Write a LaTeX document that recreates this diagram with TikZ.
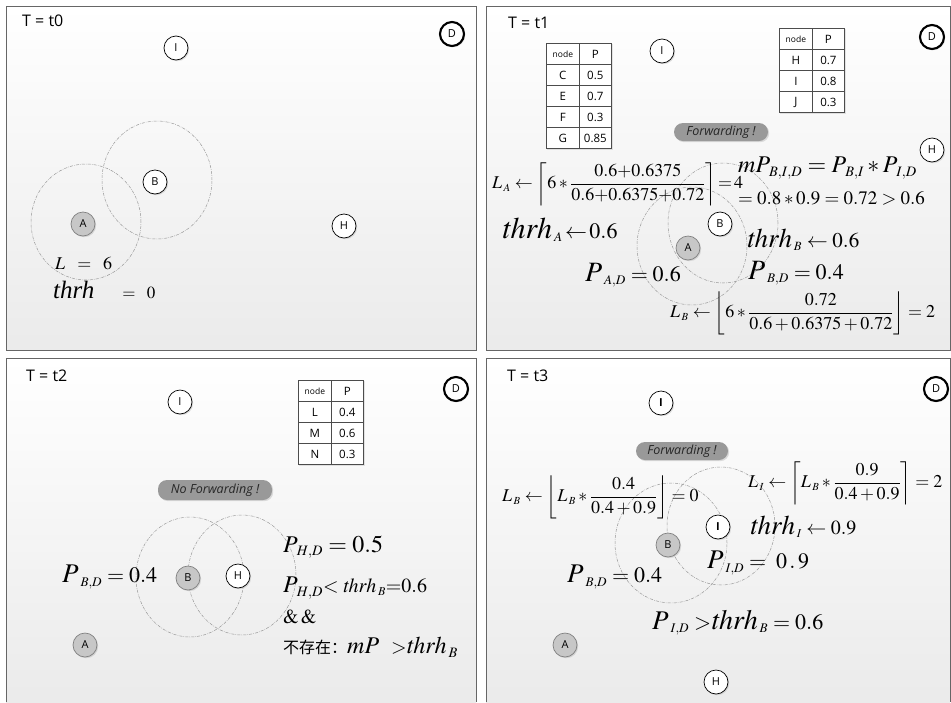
\documentclass[tikz,border=0pt]{standalone}
\usepackage{amsmath}
\usepackage{mathptmx}
\usepackage[no-math]{fontspec}
\setmainfont{Liberation Serif}
\setsansfont{Open Sans}
\newfontfamily\cjk{Noto Sans CJK SC}
\usetikzlibrary{shadows,matrix}
\newcommand{\fs}[1]{\fontsize{#1}{#1}\selectfont}
\newcommand{\ssb}[1]{_{\,\scriptscriptstyle #1}}
\newcommand{\thr}{\mathit{thrh}}
\begin{document}
\begin{tikzpicture}[x=1pt,y=-1pt,
 pfill/.style={top color=white, bottom color=black!8},
 pborder/.style={draw=black!60, line width=0.9pt},
 nd/.style={circle, draw=black, line width=0.7pt, fill=white, minimum size=24pt, inner sep=0pt, font=\sffamily\fs{11},
   drop shadow={shadow xshift=1.2pt, shadow yshift=-1.2pt, opacity=0.25}},
 ndg/.style={nd, fill=black!22, draw=black!50},
 ndd/.style={nd, line width=2.1pt},
 ndb/.style={nd, font=\sffamily\bfseries\fs{11}},
 rng/.style={draw=black!40, line width=0.5pt, dash pattern=on 3pt off 1.2pt on 0.6pt off 1.2pt},
 pill/.style={rounded corners=9pt, fill=black!40, minimum height=18pt, font=\sffamily\itshape\fs{12.5}, text=black!85, inner sep=0pt,
   drop shadow={shadow xshift=1.2pt, shadow yshift=-1.2pt, opacity=0.25}},
 lbl/.style={anchor=west, font=\sffamily\fs{16}, inner sep=0pt},
 fx/.style={anchor=west, inner sep=0pt},
 ptab/.style={matrix of nodes, inner sep=0pt, anchor=north west,
   nodes={draw=black!70, line width=0.8pt, fill=white, minimum height=21pt, minimum width=32.5pt, inner sep=0pt, font=\sffamily\fs{11.5}, anchor=center},
   column sep=-0.8pt, row sep=-0.8pt,
   drop shadow={shadow xshift=1.2pt, shadow yshift=-1.2pt, opacity=0.2}},
 hd/.style={font=\sffamily\fs{8.5}}
]
\useasboundingbox (0,0) rectangle (951,702);
\fill[white] (0,0) rectangle (951,702);
% ---------- panels
\fill[pfill] (6,6) rectangle (476,350);
\draw[pborder] (6,6) rectangle (476,350);
\fill[pfill] (486,6) rectangle (950,350);
\draw[pborder] (486,6) rectangle (950,350);
\fill[pfill] (6,358) rectangle (476,702);
\draw[pborder] (6,702) -- (6,358) -- (476,358) -- (476,702);
\fill[pfill] (486,358) rectangle (950,702);
\draw[pborder] (486,702) -- (486,358) -- (950,358) -- (950,702);

% ---------- panel t0
\node[lbl] (T0) at (22,21) {T = t0};
\draw[rng] (86,222) ellipse [x radius=55pt, y radius=58pt];
\draw[rng] (157,180) ellipse [x radius=55pt, y radius=59pt];
\node[nd] (I0) at (176,48) {I};
\node[ndd] (D0) at (452,34) {D};
\node[nd] (B0) at (155,182) {B};
\node[ndg] (A0) at (83,224) {A};
\node[nd] (H0) at (344,226) {H};
\node[fx] (L0) at (55,263) {\fs{18}$L\;\;=\;\;6$};
\node[fx] (th0) at (53,290) {\fs{25}\itshape thrh\hspace{28pt}\fs{17}\upshape $=\;\;0$};

% ---------- panel t1
\node[lbl] (T1) at (508,23) {T = t1};
\matrix[ptab] (tab1) at (546,43) {
 |[hd]| node & P \\
 C & 0.5 \\
 E & 0.7 \\
 F & 0.3 \\
 G & 0.85 \\
};
\matrix[ptab] (tab2) at (779,28) {
 |[hd]| node & P \\
 H & 0.7 \\
 I & 0.8 \\
 J & 0.3 \\
};
\draw[rng] (723,223) ellipse [x radius=55pt, y radius=60pt];
\draw[rng] (692,246) ellipse [x radius=55pt, y radius=59pt];
\node[nd] (I1) at (662,51) {I};
\node[ndd] (D1) at (932,37) {D};
\node[pill, minimum width=94pt] (F1) at (721,132) {Forwarding !};
\node[nd] (H1) at (932,150) {H};
\node[nd] (B1) at (720,224) {B};
\node[ndg] (A1) at (688,248) {A};
\node[fx] (LA) at (492,184) {\fs{18}$L\ssb{A}\leftarrow\left\lceil 6*\dfrac{0.6{+}0.6375}{0.6{+}0.6375{+}0.72}\right\rceil{=}\,4$};
\node[fx] (mP) at (738,168) {\fs{24}$mP\ssb{B,I,D}=P\ssb{B,I}*P\ssb{I,D}$};
\node[fx] (eq1) at (738,198) {\fs{19}$=0.8*0.9=0.72>0.6$};
\node[fx] (thA) at (502,230) {\fs{30}$\thr$\fs{22}${}\ssb{A}\!\leftarrow\!0.6$};
\node[fx] (thB) at (747,240) {\fs{27}$\thr$\fs{21}${}\ssb{B}\leftarrow0.6$};
\node[fx] (PAD) at (585,275) {\fs{28}$P$\fs{22}${}\ssb{A,D}=0.6$};
\node[fx] (PBD1) at (748,273) {\fs{28}$P$\fs{22}${}\ssb{B,D}=0.4$};
\node[fx] (LB) at (670,313) {\fs{18}$L\ssb{B}\leftarrow\left\lfloor 6*\dfrac{0.72}{0.6+0.6375+0.72}\right\rfloor=2$};

% ---------- panel t2
\node[lbl] (T2) at (26,376) {T = t2};
\matrix[ptab] (tab3) at (298,380) {
 |[hd]| node & P \\
 L & 0.4 \\
 M & 0.6 \\
 N & 0.3 \\
};
\draw[rng] (190,577) ellipse [x radius=54pt, y radius=60pt];
\draw[rng] (242,575) ellipse [x radius=54pt, y radius=60pt];
\node[nd] (I2) at (180,402) {I};
\node[ndd] (D2) at (456,389) {D};
\node[pill, minimum width=114pt, minimum height=20pt] (NF) at (215,490) {No Forwarding !};
\node[ndg] (B2) at (188,578) {B};
\node[nd] (H2) at (238,576) {H};
\node[ndg] (A2) at (85,645) {A};
\node[fx] (PBD2) at (62,577) {\fs{27}$P$\fs{22}${}\ssb{B,D}=0.4$};
\node[fx] (PHD) at (283,547) {\fs{24}$P\ssb{H,D}=0.5$};
\node[fx] (cmp) at (283,588) {\fs{24}$P\ssb{H,D}$\fs{20}$<\fs{24}\thr\ssb{B}{=}0.6$};
\node[fx] (and) at (283,617) {\fs{20}$\&\,\&$};
\node[fx] (nex) at (283,647) {\cjk\fs{16}不存在：\fs{24}$mP$\hspace{12pt}\fs{20}$>$\fs{24}$\thr\ssb{B}$};

% ---------- panel t3
\node[lbl] (T3) at (507,376) {T = t3};
\draw[rng] (671,543) ellipse [x radius=56pt, y radius=60pt];
\draw[rng] (721,526) ellipse [x radius=54pt, y radius=59pt];
\node[ndb] (I3) at (661,403) {I};
\node[ndd] (D3) at (936,389) {D};
\node[pill, minimum width=92pt] (F3) at (682,451) {Forwarding !};
\node[ndb] (I3b) at (718,527) {I};
\node[ndg] (B3) at (668,545) {B};
\node[ndg] (A3) at (565,645) {A};
\node[nd] (H3) at (716,682) {H};
\node[fx] (LB3) at (502,497) {\fs{18}$L\ssb{B}\leftarrow\left\lfloor L\ssb{B}*\dfrac{0.4}{0.4+0.9}\right\rfloor=0$};
\node[fx] (LI3) at (748,483) {\fs{18}$L\ssb{I}\leftarrow\left\lceil L\ssb{B}*\dfrac{0.9}{0.4+0.9}\right\rceil=2$};
\node[fx] (thI) at (750,527) {\fs{27}$\thr$\fs{20}${}\ssb{I}\leftarrow0.9$};
\node[fx] (PID) at (707,563) {\fs{27}$P$\fs{22}${}\ssb{I,D}=\;0\,.\,9$};
\node[fx] (PBD3) at (567,577) {\fs{27}$P$\fs{22}${}\ssb{B,D}=0.4$};
\node[fx] (cmp3) at (652,623) {\fs{27}$P$\fs{22}${}\ssb{I,D}>$\fs{28}$\thr$\fs{22}${}\ssb{B}=0.6$};
\end{tikzpicture}
\end{document}
